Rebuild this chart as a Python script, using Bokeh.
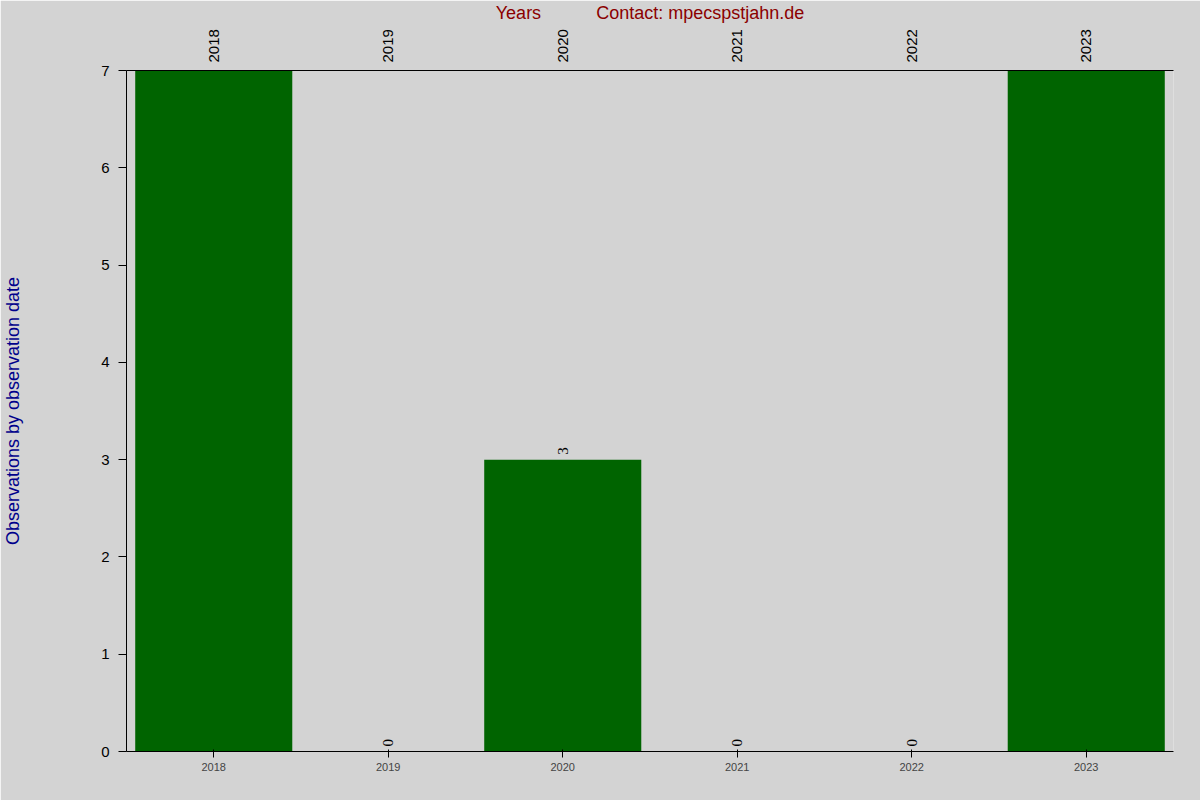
import math
from bokeh.plotting import figure
from bokeh.models import (FactorRange, Range1d, FixedTicker, ColumnDataSource,
                          LabelSet, CategoricalAxis)
from bokeh.embed import file_html
from bokeh.resources import INLINE

years = ["2018", "2019", "2020", "2021", "2022", "2023"]
counts = [7, 0, 3, 0, 0, 7]
y_ticks = [0, 1, 2, 3, 4, 5, 6, 7]
title_text = "Station L75"
y_label = "Observations by observation date"
x_label = "Years" + "\u00a0" * 11 + "Contact: mpecspstjahn.de"

FONT = "Liberation Sans"
BG = "#D3D3D3"
y_max = y_ticks[-1]

p = figure(width=1200, height=800, output_backend="svg", toolbar_location=None,
           x_range=FactorRange(factors=years, range_padding=0),
           y_range=Range1d(0, y_max),
           min_border_left=126, min_border_right=27, min_border_top=56, min_border_bottom=49)

p.background_fill_color = BG
p.border_fill_color = BG
p.outline_line_color = None
p.grid.grid_line_color = None

p.vbar(x=years, top=counts, width=0.9, fill_color="#006400", line_color=None)

# value labels that fit inside the plot area
inner = [(yr, c) for yr, c in zip(years, counts) if c < y_max]
src = ColumnDataSource(dict(x=[a for a, _ in inner], y=[b for _, b in inner],
                            t=[str(b) for _, b in inner]))
p.add_layout(LabelSet(x="x", y="y", text="t", source=src, angle=math.pi / 2,
                      text_align="left", text_baseline="middle", y_offset=5,
                      text_font=FONT, text_font_size="15px", text_color="black"))

# value labels of bars reaching the top, plus the title, on an axis above the plot
top_axis = CategoricalAxis()
top_axis.major_label_overrides = {yr: (str(c) if c >= y_max else "") for yr, c in zip(years, counts)}
top_axis.major_label_orientation = math.pi / 2
top_axis.axis_line_color = None
top_axis.major_tick_line_color = None
top_axis.minor_tick_line_color = None
top_axis.major_tick_out = 0
top_axis.major_tick_in = 0
top_axis.major_label_standoff = 6
top_axis.major_label_text_font = FONT
top_axis.major_label_text_font_size = "15px"
top_axis.major_label_text_color = "black"
top_axis.axis_label = title_text
top_axis.axis_label_text_font = FONT
top_axis.axis_label_text_font_size = "26px"
top_axis.axis_label_text_font_style = "normal"
top_axis.axis_label_text_color = "#8B0000"
top_axis.axis_label_standoff = 9
p.add_layout(top_axis, "above")

ya = p.yaxis[0]
ya.ticker = FixedTicker(ticks=y_ticks)
ya.minor_tick_line_color = None
ya.major_tick_out = 8
ya.major_tick_in = 0
ya.major_label_text_font = FONT
ya.major_label_text_font_size = "15px"
ya.major_label_text_color = "black"
ya.major_label_standoff = 9
ya.axis_label = y_label
ya.axis_label_text_font = FONT
ya.axis_label_text_font_size = "18px"
ya.axis_label_text_font_style = "normal"
ya.axis_label_text_color = "#00008B"
ya.axis_label_standoff = 75
ya.axis_line_color = "black"

xa = p.xaxis[0]
xa.major_tick_line_color = None
xa.minor_tick_line_color = None
xa.major_tick_out = 0
xa.major_tick_in = 0
xa.major_label_text_font = FONT
xa.major_label_text_font_size = "15px"
xa.major_label_text_color = "black"
xa.major_label_standoff = 8
xa.axis_label = x_label
xa.axis_label_text_font = FONT
xa.axis_label_text_font_size = "18px"
xa.axis_label_text_font_style = "normal"
xa.axis_label_text_color = "#8B0000"
xa.axis_label_standoff = 3
xa.axis_line_color = "black"

open("out.html", "w").write(file_html(p, INLINE))
